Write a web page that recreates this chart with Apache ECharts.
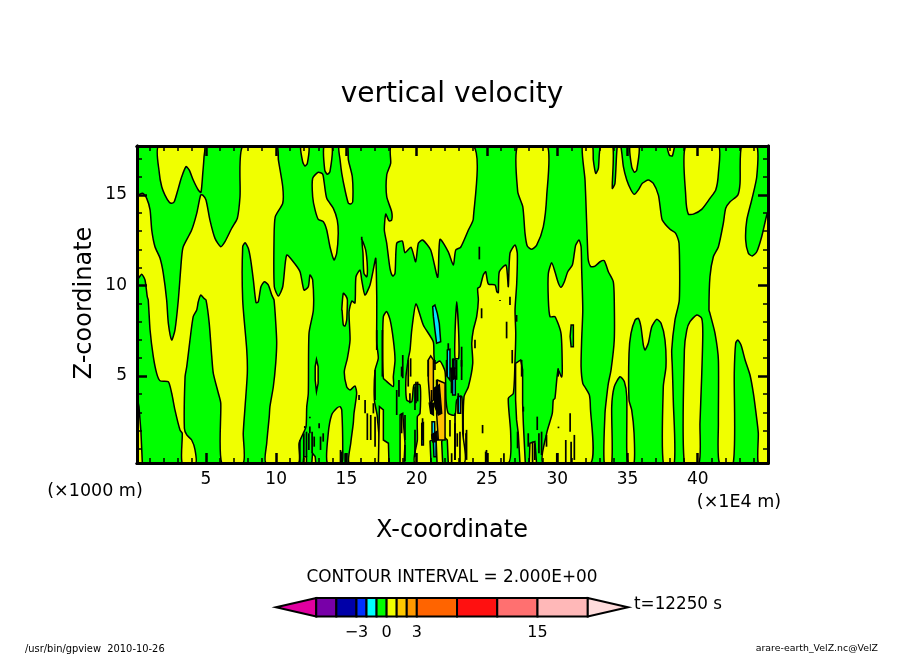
<!DOCTYPE html>
<html><head><meta charset="utf-8">
<style>html,body{margin:0;padding:0;background:#fff}#c{width:904px;height:654px}</style>
<script src="https://cdn.jsdelivr.net/npm/echarts@6/dist/echarts.min.js"></script>
</head><body><div id="c"></div>
<script>
// Tick values
const xMajor=[5,10,15,20,25,30,35,40];
const xMinor=[1,2,3,4,6,7,8,9,11,12,13,14,16,17,18,19,21,22,23,24,26,27,28,29,31,32,33,34,36,37,38,39,41,42,43,44];
const yMajor=[5,10,15];
const yMinor=[1,2,3,4,6,7,8,9,11,12,13,14,16,17];
// Colour bar
const cbLevels=[-11,-7,-5,-3,-2,-1,0,1,2,3,7,11,15,20,24];
const cbColors=['#e000a0','#7800a8','#0000a8','#0030ff','#00ffff','#00ff00','#f0ff00','#ffc800','#ff9800','#ff6400','#ff1010','#ff7070','#ffb8b8','#ffdcdc'];
const cbLabels=[-3,0,3,15];
// Contour regions, as x,y pairs in axis units
const yellowMain=[0.1,14.9,0.51,15.09,0.79,14.81,1.03,14.17,1.15,13.06,1.38,12.14,1.74,11.5,1.97,10.67,2.21,9.2,2.33,7.91,2.57,6.99,2.8,7.54,3.04,9.2,3.28,11.59,3.39,12.14,3.99,13.06,4.35,13.98,4.63,14.99,4.78,14.99,5.01,14.72,5.29,13.61,5.65,12.6,6.06,12.14,6.36,12.42,6.84,13.16,7.24,13.71,7.43,14.9,7.62,17.7,10.04,17.7,10.16,16.93,10.47,15.45,10.47,14.54,9.94,13.8,9.85,12.51,9.87,9.93,10.16,9.42,10.47,9.93,10.75,11.68,11.22,11.31,11.7,10.76,11.98,9.75,12.29,9.93,12.41,10.58,12.6,10.3,12.65,8.65,12.34,7.36,12.29,4.05,12.18,3.31,12.13,2.2,11.93,1.84,11.63,1.29,11.58,0.2,9.28,0.2,9.33,1.29,9.51,2.76,9.56,3.31,9.8,4.41,9.97,5.7,10.04,6.81,9.99,7.72,9.85,9.2,9.69,9.47,9.44,10.03,9.16,10.21,8.92,9.93,8.73,9.1,8.57,9.05,8.38,10.3,8.19,11.41,8.02,12.05,7.79,12.36,7.62,12.14,7.62,9.2,7.91,6.44,7.95,5.15,7.79,3.31,7.66,1.84,7.66,0.2,6.13,0.2,6.06,3.5,5.89,4.05,5.53,5.15,5.42,6.07,5.24,7.91,5.01,9.2,4.87,9.29,4.63,9.47,4.46,9.1,4.35,8.65,4.1,8.28,3.87,6.99,3.64,5.52,3.52,4.96,3.47,2.12,3.64,1.75,3.99,1.47,4.23,0.92,4.28,0.2,3.32,0.2,3.32,1.84,3.16,2.02,2.8,3.13,2.57,4.05,2.33,4.69,1.74,4.74,1.5,5.15,1.26,6.07,1.03,7.54,0.9,9.2,0.83,9.38,0.67,10.3,0.43,10.62,0.1,10.3];
const yellowTopLeft=[1.64,17.7,1.69,16.19,1.86,15.45,2.09,14.99,2.4,14.59,2.57,14.54,2.75,14.62,3.04,15.36,3.28,16,3.59,16.56,3.82,16.37,4.1,15.82,4.46,15.27,4.65,15.14,4.78,16.19,4.87,17.11,4.87,17.7];
const yellowIsland=[13,16.25,13.31,16.15,13.41,15.73,13.6,14.81,14.07,14.26,14.35,13.61,14.42,12.88,14.31,11.78,14.12,11.41,13.83,12.14,13.6,13.06,13.36,13.52,13,13.65,12.77,14.17,12.6,14.9,12.6,15.92];
const yellowCupA=[11.75,17.7,11.89,16.83,12.05,16.59,12.22,16.74,12.32,17.7];
const yellowCupB=[13.41,17.7,13.46,16.37,13.64,16.14,13.83,16.28,13.98,17.7];
const yellowCupC=[14.47,17.7,14.55,16.93,14.67,16.19,14.9,15.27,15.14,14.54,15.31,14.5,15.45,14.62,15.42,16,15.14,16.93,15.07,17.7];
const yellowFinger=[14.67,8.65,14.78,9.57,14.97,9.42,15.07,9.2,15.04,8.37,15.02,8.09,14.9,7.76,14.78,7.82,14.69,8.65];
const yellowLeftEdge=[0.1,3.86,0.24,3.31,0.38,1.93,0.48,0.2,0.1,0.2];
const yellowPeak=[13.64,0.2,13.71,1.84,13.95,2.85,14.31,3.22,14.55,3.31,14.67,3.13,14.74,0.92,14.67,0.2];
const yellowTopCentre=[18.22,17.7,18.15,16.74,17.87,16.1,17.87,14.9,18.22,14.07,18.22,13.61,18.03,13.57,17.8,13.94,17.7,13.06,17.87,12.33,18.1,10.95,18.3,10.52,18.46,10.67,18.58,12.33,18.98,12.45,19.17,11.81,19.6,12.11,19.93,11.31,20.12,12.33,20.43,12.51,21,11.96,21.5,10.45,21.66,12.55,22.25,11.86,22.61,11.13,22.78,11.96,23.13,12.11,23.68,13.06,24.03,13.67,24.03,17.7];
const yellowTopRightA=[27.19,17.7,27.19,15.18,27.55,14.35,27.71,12.88,27.87,12.18,28.19,12,28.54,12.23,29.01,13.24,29.25,14.9,29.3,17.7];
const yellowBandR1=[29.37,10.67,29.61,11.26,29.84,10.76,30.08,10.14,30.27,9.9,30.51,10.21,30.75,10.76,31.08,11.13,31.22,11.78,31.32,12.23,31.55,12.51,31.7,12.14,31.74,10.95,31.82,8.65,31.74,6.99,31.7,5.52,31.82,4.6,32.03,4.32,32.29,3.95,32.36,3.31,32.39,0.2,28.99,0.2,29.25,1.84,29.65,2.94,29.72,3.68,29.84,3.77,30.06,5.33,30.32,4.95,30.36,5.52,30.27,7.36,29.84,8.28,29.49,8.28,29.37,9.2];
const yellowBandR2=[31.79,17.7,32.5,17.7,32.57,16.93,32.74,16.19,32.93,16.47,33.1,17.7,33.95,17.7,33.92,15.36,34.11,15.64,34.28,17.7,34.52,17.7,34.71,16.56,34.95,15.82,35.25,15.27,35.49,15.03,35.77,15.27,36.06,15.64,36.48,15.82,36.84,15.64,37.2,14.99,37.37,14.07,37.48,13.61,38.03,13.1,38.43,12.88,38.67,12.33,38.69,9.2,38.38,8.09,38.15,6.44,38.19,5.52,38.26,3.68,38.33,0.2,37.55,0.2,37.55,4.41,37.74,5.52,37.67,6.99,37.39,7.91,37.08,8.13,36.73,7.72,36.48,6.81,36.25,6.44,36.13,6.71,35.96,7.72,35.77,8.19,35.54,8.09,35.25,7.36,35.11,6.26,35.11,3.68,35.3,3.13,35.47,1.84,35.47,0.2,35.06,0.2,34.95,0.92,34.95,3.86,34.78,4.69,34.47,4.96,34.06,4.41,33.88,3.31,33.88,0.2,33.35,0.2,33.4,2.94,33.52,3.86,33.64,4.6,33.83,5.33,34.06,6.99,34.06,9.2,33.99,10.21,33.64,10.76,33.35,11.37,33.05,11.31,32.69,11.07,32.39,11.04,32.21,11.41,32.14,12.51,31.98,15.82];
const yellowCupD=[37.84,17.7,37.98,17.2,38.19,17.15,38.33,17.59,38.38,17.7];
const yellowCupE=[35.18,17.7,35.3,16.56,35.49,16.25,35.66,16.37,35.82,17.7];
const yellowTall=[39.05,0.2,39.05,6.44,39.22,7.54,39.45,8,39.93,8.37,40.28,8.19,40.36,7.36,40.28,4.96,40.16,2.39,40.09,0.2];
const yellowTopRightB=[39.15,17.7,39.15,14.9,39.33,13.94,39.69,13.94,40.28,14.2,40.87,14.81,41.28,15.27,41.47,16.19,41.47,17.7];
const yellowRight=[41.54,0.2,41.47,2.39,41.47,5.89,41.23,7.36,40.87,8.46,40.8,8.65,40.87,10.48,41.11,11.59,41.47,12.14,41.82,13.43,41.99,14.26,42.3,14.62,42.85,14.99,43.01,15.64,43.13,17.7,44.2,17.7,44.2,16,43.84,14.72,43.49,13.61,43.41,12.51,43.6,11.78,43.88,11.63,44.2,11.86,44.55,12.69,44.91,13.89,45,14.05,45,0.2,44.31,0.2,44.31,1.84,44.15,2.94,43.96,4.05,43.72,5.06,43.37,5.89,43.08,6.71,42.85,6.99,42.7,6.81,42.6,5.15,42.53,0.2];
const yellowCentreRight=[23.44,0.2,23.32,1.84,23.37,3.86,23.68,4.41,23.99,5.7,23.92,6.81,24.03,7.54,24.27,8.28,24.39,9.2,24.34,9.84,24.51,9.93,24.74,10.58,24.91,10.76,25.1,10.08,25.58,10.03,25.7,9.66,25.81,9.6,25.88,10.76,26.36,11.13,26.52,9.93,26.64,11.78,27,12.23,27.16,11.78,27.12,10.12,27,8.65,27.05,7.36,27,5.89,26.88,4.05,26.52,3.77,26.69,1.84,26.52,0.2];
const yellowCentre=[19.95,8.98,20.47,7.82,21.18,6.9,21.23,6.16,21.31,5.7,21.66,5.83,22.02,5.24,22.09,3.68,22.25,2.94,22.73,2.85,22.85,3.68,23.21,3.86,23.28,1.84,23.37,0.2,19.88,0.2,20.05,1.47,20.05,2.76,20.24,2.94,20.24,4.51,19.81,4.51,19.65,3.58,19.29,3.68,19.24,4.96,19.41,5.98,19.53,6.44,19.65,7.54];
const yellowSpireA=[16.11,12.51,16.18,11.78,16.25,10.67,16.45,10.48,16.49,11.04,16.37,11.96];
const yellowSpireB=[22.85,9.1,22.73,7.36,22.73,5.98,22.99,5.98,22.99,7.36];
const yellowLeftCentre=[15.26,6.99,15.19,8.54,15.38,9.14,15.61,9.03,15.68,10.48,15.97,10.85,16.09,10.3,16.32,9.47,16.68,10.03,16.91,10.85,17.09,11.5,17.16,9.38,17.16,8.28,17.16,6.81,17.27,5.98,17.04,5.33,16.99,3.68,17.2,2.76,17.27,0.2,15.21,0.2,15.31,1.29,15.49,2.39,15.54,2.94,15.73,4.05,15.61,4.45,15.26,4.23,15.02,4.41,14.85,5.24,15.07,5.98];
const yellowStripA=[17.63,8.28,17.87,8.56,18.11,8.1,18.34,7,18.46,5.89,18.34,4.97,18.34,4.42,17.75,4.78,17.63,4.88,17.58,6.44];
const yellowStripB=[17.35,3.31,17.63,3.13,17.63,1.47,17.99,1.29,18.03,0.2,17.28,0.2];
const yellowStripC=[18.82,2.85,19.01,2.94,19.17,1.29,19.1,0.2,18.82,0.2];
const yellowStripD=[27.04,5.7,27.4,5.89,27.54,5.34,27.54,3.5,27.59,2.39,27.73,0.2,27.35,0.2,27.23,1.84,27.11,2.58,27.04,3.68];
const yellowStripE=[28.06,1.29,28.41,1.38,28.53,0.2,28.01,0.2];
const yellowStripF=[11.97,0.55,12.16,0.55,12.16,0.2,11.92,0.2];
const yellowStripG=[12.59,0.74,12.78,0.55,12.82,0.2,12.54,0.2];
const yellowStripH=[12.87,5.92,12.99,5.52,12.99,4.6,12.87,4.14,12.78,4.78,12.78,5.52];
const greenPatchA=[21.78,1.38,21.95,1.65,22.18,1.47,22.25,0.2,21.85,0.2];
const greenPatchB=[20.95,1.41,21.38,1.58,21.45,0.2,21.02,0.2];
const greenPatchC=[30.99,7.82,31.15,7.82,31.15,6.62,30.99,6.62,30.92,7.18];
const cyanA=[21.14,8.83,21.3,8.92,21.47,8.46,21.61,7.91,21.71,6.9,21.42,6.81,21.3,7.54,21.19,8.28];
const cyanB=[22.18,6.44,22.37,6.48,22.37,4.78,22.18,4.97];
const cyanC=[22.56,4.88,22.75,4.97,22.75,3.96,22.56,3.96];
const cyanD=[22.94,3.86,23.13,3.9,23.13,2.94,22.94,2.94];
const cyanE=[20.36,2.39,20.48,2.43,20.48,1.2,20.36,1.2];
const cyanF=[21.09,2.48,21.28,2.48,21.3,1.56,21.09,1.56];
const cyanG=[21.19,1.38,21.38,1.38,21.38,0.55,21.23,0.55];
const cyanH=[22.56,5.92,22.73,5.92,22.73,5.43,22.56,5.43];
const amberA=[20.83,5.89,21,6.11,21.19,5.89,21.19,3.68,20.95,3.5,20.83,4.78];
const amberB=[21.47,4.78,22.02,4.6,22.02,1.47,21.54,1.47,21.42,2.94];
const denseA=[21.23,4.32,21.61,4.51,21.78,2.94,21.54,2.85,21.3,3.31];
const denseB=[22.42,5.43,22.73,5.43,22.73,4.88,22.49,4.78];
const denseC=[21.07,1.75,21.42,1.93,21.47,1.47,21.14,1.38];
const denseD=[20.9,3.5,21.19,3.5,21.19,2.85,21,2.94];
// Tight contour strands: x, low y, high y
const strands=[[11.69,1.47,0.2],[11.97,1.84,0.55],[12.16,1.93,0.55],[12.33,1.84,0.92],[12.56,1.93,0.74],[12.71,1.66,1.1],[13.16,1.66,0.92],[13.35,1.84,1.38],[13.06,2.39,2.12],[12.04,2.24,2.12],[12.4,2.76,2.67],[12.4,2.21,1.84],[14.58,0.92,0.2],[14.96,0.74,0.2],[14.67,0.83,0.2],[14.91,0.74,0.2],[15.9,3.96,3.68],[16.33,3.68,2.94],[16.49,2.94,1.47],[16.73,2.85,1.47],[17.04,5.34,3.68],[16.92,3.5,2.94],[17.04,2.76,1.1],[17.56,7.54,4.97],[17.16,7.54,6.44],[18.58,4.23,2.85],[18.74,4.78,3.86],[19.01,6.16,4.88],[18.93,2.94,1.84],[19.57,5.98,4.97],[20.07,4.69,3.6],[19.88,4.42,3.13],[22.25,6.81,6.44],[22.61,5.98,5.43],[23.2,6.62,4.78],[23.51,1.84,0.74],[22.89,1.84,1.1],[22.49,0.74,0.2],[23.08,1.93,0.2],[22.73,2.94,0.37],[24.62,8.74,8.19],[26.4,8,7.08],[24.15,7,6.53],[26.8,6.44,5.7],[27.11,8.37,8],[24.69,2.3,1.84],[24.91,0.83,0.2],[26.21,0.74,0.2],[27.18,1.93,1.01],[27.59,3.31,3.04],[27.94,1.84,1.1],[28.25,1.38,0.2],[28.58,2.76,2.02],[28.7,1.84,0.74],[28.89,1.93,0.64],[28.41,1.29,0.37],[29.24,1.75,1.1],[27.47,5.89,4.97],[30.07,5.43,4.97],[30.92,2.94,1.93],[30.09,2.21,2.12],[30.61,1.47,0.2],[30.99,1.38,0.2],[31.22,1.75,0.37],[29.97,0.74,0.2],[16.09,12.69,12.5],[24.46,12.14,11.44],[26.64,9.38,8.92],[25.93,9.2,9.15],[18.93,5.52,4.97],[19.4,5.89,4.42],[19.17,2.85,1.47],[19.95,4.69,3.5],[19.52,4.05,3.5],[20.42,2.67,1.47],[19.88,2.03,0.55],[19.17,1.2,0.28],[20.82,5.89,4.97],[21.3,5.89,5.34],[21.42,4.79,3.13],[21.06,4.23,2.95],[22.13,5.89,4.97],[22.48,4.97,4.05],[22.84,5.89,4.79],[22.96,4.05,2.95],[22.37,2.58,1.66],[22.72,2.39,0.37],[23.55,2.03,0.37],[23.19,5.89,5.52],[24.97,0.92,0.28]];

const layers=[
 {color:'#f0ff00',smooth:0.22,regions:[yellowMain,yellowTopLeft,yellowIsland,yellowCupA,yellowCupB,yellowCupC,yellowFinger,yellowPeak,yellowTopCentre,yellowTopRightA,yellowBandR1,yellowBandR2,yellowCupD,yellowCupE,yellowTall,yellowTopRightB,yellowRight,yellowCentreRight,yellowCentre,yellowSpireA,yellowSpireB,yellowLeftCentre,yellowStripA]},
 {color:'#f0ff00',smooth:0,regions:[yellowLeftEdge,yellowStripB,yellowStripC,yellowStripD,yellowStripE,yellowStripF,yellowStripG,yellowStripH]},
 {color:'#00ff00',smooth:0,regions:[greenPatchA,greenPatchB,greenPatchC]},
 {color:'#00e6ff',smooth:0,regions:[cyanA,cyanB,cyanC,cyanD,cyanE,cyanF,cyanG,cyanH]},
 {color:'#ffc000',smooth:0,regions:[amberA,amberB]},
 {color:'#000000',smooth:0,regions:[denseA,denseB,denseC,denseD]}
];
const FONT='"DejaVu Sans"';
const regionSeries=layers.map((l,li)=>({
  type:'custom',coordinateSystem:'cartesian2d',xAxisIndex:0,yAxisIndex:0,clip:true,z:2+li,silent:true,
  data:l.regions.map((_,i)=>[i]),
  renderItem:(p,api)=>{
    const f=l.regions[p.dataIndex],pts=[];
    for(let k=0;k<f.length;k+=2)pts.push(api.coord([f[k],f[k+1]]));
    return {type:'polygon',shape:{points:pts,smooth:l.smooth},style:{fill:l.color,stroke:'#000',lineWidth:1.5}};
  }
}));
const strandSeries={
  type:'custom',coordinateSystem:'cartesian2d',xAxisIndex:0,yAxisIndex:0,clip:true,z:9,silent:true,
  data:strands.map((_,i)=>[i]),
  renderItem:(p,api)=>{
    const s=strands[p.dataIndex],a=api.coord([s[0],s[1]]),b=api.coord([s[0],s[2]]);
    return {type:'line',shape:{x1:a[0],y1:a[1],x2:b[0],y2:b[1]},style:{stroke:'#000',lineWidth:1.7}};
  }
};
const barSeries={
  type:'custom',coordinateSystem:'cartesian2d',xAxisIndex:4,yAxisIndex:4,clip:false,z:3,silent:true,
  data:cbColors.map((_,i)=>[i]),
  renderItem:(p,api)=>{
    const i=p.dataIndex,lo=cbLevels[i],hi=cbLevels[i+1];
    let v;
    if(i===0)v=[[lo,0.5],[hi,1],[hi,0]];
    else if(i===cbColors.length-1)v=[[lo,1],[hi,0.5],[lo,0]];
    else v=[[lo,1],[hi,1],[hi,0],[lo,0]];
    return {type:'polygon',shape:{points:v.map(c=>api.coord(c))},style:{fill:cbColors[i],stroke:'#000',lineWidth:2}};
  }
};
const hide={show:false};
function xa(pos,ticks,len,w,labels){
  return {type:'value',gridIndex:0,position:pos,min:0.1,max:45,z:20,
    axisLine:{show:true,onZero:false,lineStyle:{color:'#000',width:3}},
    axisTick:{show:true,inside:true,length:len,customValues:ticks,lineStyle:{color:'#000',width:w}},
    axisLabel:labels?{show:true,customValues:ticks,margin:8,color:'#000',fontFamily:FONT,fontSize:17}:hide,
    splitLine:hide};
}
function ya(pos,ticks,len,w,labels){
  return {type:'value',gridIndex:0,position:pos,min:0.2,max:17.7,z:20,
    axisLine:{show:true,onZero:false,lineStyle:{color:'#000',width:3}},
    axisTick:{show:true,inside:true,length:len,customValues:ticks,lineStyle:{color:'#000',width:w}},
    axisLabel:labels?{show:true,customValues:ticks,margin:10,padding:[4,0,0,0],color:'#000',fontFamily:FONT,fontSize:17}:hide,
    splitLine:hide};
}
function txt(text,x,y,size,align,rot){
  return {type:'text',x,y,rotation:rot||0,z:30,style:{text,fill:'#000',font:size+'px '+FONT,textAlign:align||'center',textVerticalAlign:'middle'}};
}
const chart=echarts.init(document.getElementById('c'),null,{renderer:'canvas'});
chart.setOption({
  animation:false,backgroundColor:'#fff',
  grid:[
    {left:137,top:146,width:631,height:317,show:true,backgroundColor:'#00ff00',borderWidth:0},
    {left:276,top:598,width:352,height:18.5,show:false}
  ],
  xAxis:[
    xa('bottom',xMajor,10,2.5,true),xa('bottom',xMinor,5,1.5,false),
    xa('top',xMajor,10,2.5,false),xa('top',xMinor,5,1.5,false),
    {type:'value',gridIndex:1,position:'bottom',min:-11,max:24,axisLine:hide,axisTick:hide,splitLine:hide,
     axisLabel:{show:true,customValues:cbLabels,margin:8,color:'#000',fontFamily:FONT,fontSize:16,
       formatter:v=>String(v).replace('-','\u2212')}}
  ],
  yAxis:[
    ya('left',yMajor,10,2.5,true),ya('left',yMinor,5,1.5,false),
    ya('right',yMajor,10,2.5,false),ya('right',yMinor,5,1.5,false),
    {type:'value',gridIndex:1,min:0,max:1,show:false}
  ],
  series:[...regionSeries,strandSeries,barSeries],
  graphic:{elements:[
    txt('vertical velocity',452,95,28),
    txt('X-coordinate',452,530.5,24),
    txt('Z-coordinate',85,303,24,'center',Math.PI/2),
    txt('(\u00d71000 m)',95,491,17.5),
    txt('(\u00d71E4 m)',739,502,17.5),
    txt('CONTOUR INTERVAL = 2.000E+00',452,578,16.9),
    txt('t=12250 s',634,605,16.8,'left'),
    txt('/usr/bin/gpview  2010-10-26',25,649,9.9,'left'),
    txt('arare-earth_VelZ.nc@VelZ',878,649,9.4,'right')
  ]}
});
</script></body></html>
